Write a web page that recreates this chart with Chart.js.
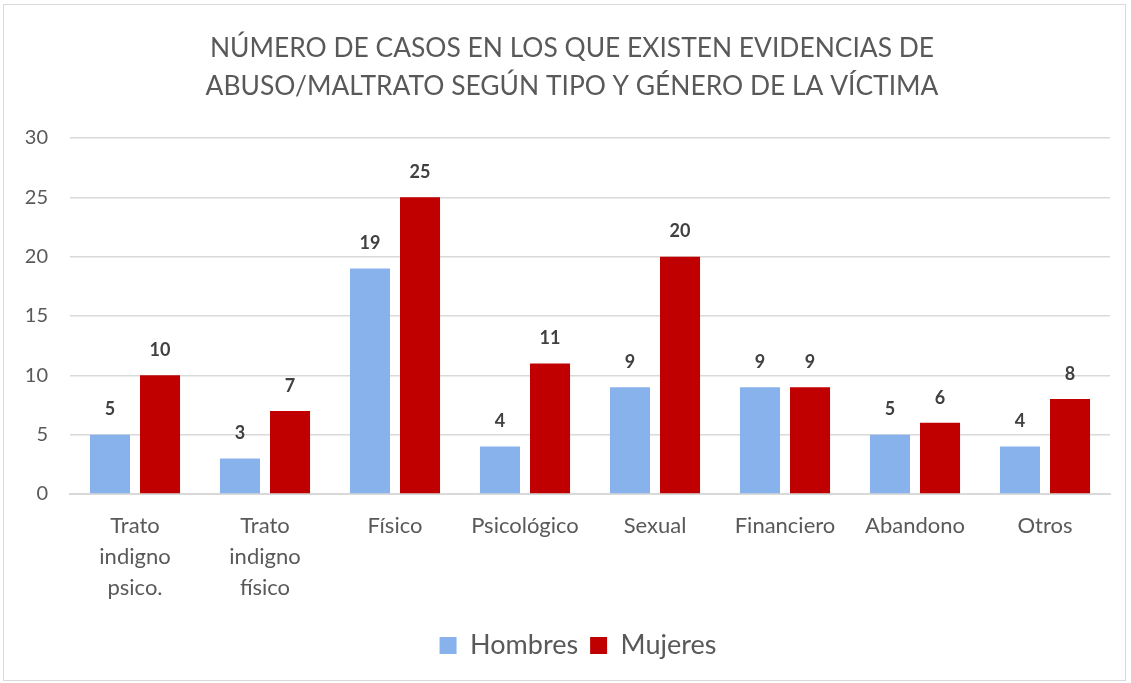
<!DOCTYPE html>
<html lang="es">
<head>
<meta charset="UTF-8">
<title>Casos de abuso/maltrato</title>
<script src="https://cdn.jsdelivr.net/npm/chart.js"></script>
<style>
  html, body { margin: 0; padding: 0; background: #fff; }
  #wrap { position: relative; width: 1131px; height: 683px; }
  #frame { position: absolute; left: 3px; top: 4px; right: 5px; bottom: 2px; border: 1px solid #d9d9d9; pointer-events: none; }
</style>
</head>
<body>
<div id="wrap">
  <canvas id="myChart" width="1131" height="683"></canvas>
  <div id="frame"></div>
</div>
<script>
// datos
const categorias = [
  ["Trato", "indigno", "psico."],
  ["Trato", "indigno", "físico"],
  "Físico", "Psicológico", "Sexual", "Financiero", "Abandono", "Otros"
];
const hombres = [5, 3, 19, 4, 9, 9, 5, 4];
const mujeres = [10, 7, 25, 11, 20, 9, 6, 8];
const yTicks = [0, 5, 10, 15, 20, 25, 30];

const FUENTE = "Lato, 'Open Sans', sans-serif";
const GRIS = "#595959";

// etiquetas encima de las barras
const etiquetas = {
  id: 'etiquetas',
  afterDatasetsDraw(chart) {
    const ctx = chart.ctx;
    ctx.save();
    ctx.font = "bold 18px " + FUENTE;
    ctx.fillStyle = "#404040";
    ctx.textAlign = "center";
    ctx.textBaseline = "middle";
    chart.data.datasets.forEach((ds, i) => {
      chart.getDatasetMeta(i).data.forEach((bar, j) => {
        ctx.fillText(ds.data[j], bar.x, bar.y - 25);
      });
    });
    ctx.restore();
  }
};

// titulo y leyenda centrados en toda la imagen, no en el area con padding
const centrar = {
  id: 'centrar',
  beforeDraw(chart) {
    chart.titleBlock.left += 12;
    chart.titleBlock.right += 12;
    chart.legend.left += 18;
    chart.legend.right += 18;
  }
};

const ctx = document.getElementById('myChart').getContext('2d');
const myChart = new Chart(ctx, {
  type: 'bar',
  data: {
    labels: categorias,
    datasets: [
      { label: 'Hombres', data: hombres, backgroundColor: '#88b2eb' },
      { label: 'Mujeres', data: mujeres, backgroundColor: '#c00000' }
    ]
  },
  options: {
    responsive: false,
    animation: false,
    categoryPercentage: 0.77,
    barPercentage: 0.8,
    layout: { padding: { left: 10, right: 21, top: 20, bottom: 14 } },
    plugins: {
      title: {
        display: true,
        text: ["NÚMERO DE CASOS EN LOS QUE EXISTEN EVIDENCIAS DE",
               "ABUSO/MALTRATO SEGÚN TIPO Y GÉNERO DE LA VÍCTIMA"],
        color: GRIS,
        font: { family: FUENTE, size: 26.4, weight: 'normal', lineHeight: 1.42 },
        padding: { top: 10, bottom: 33 }
      },
      legend: {
        position: 'bottom',
        labels: {
          color: GRIS,
          font: { family: FUENTE, size: 27 },
          boxWidth: 17,
          boxHeight: 17,
          padding: 12
        }
      },
      tooltip: { enabled: false }
    },
    scales: {
      x: {
        grid: { display: false },
        border: { color: '#d9d9d9', width: 2 },
        ticks: {
          color: GRIS,
          font: { family: FUENTE, size: 22, lineHeight: 1.42 },
          maxRotation: 0,
          autoSkip: false,
          padding: 8
        },
        afterFit(scale) { scale.height = 126; }
      },
      y: {
        min: 0,
        max: 30,
        afterBuildTicks(scale) { scale.ticks = yTicks.map(v => ({ value: v })); },
        grid: { color: '#d9d9d9', lineWidth: 1.5, drawTicks: false },
        border: { display: false },
        ticks: {
          color: GRIS,
          font: { family: FUENTE, size: 20 },
          padding: 22
        },
        afterFit(scale) { scale.width = 60; }
      }
    }
  },
  plugins: [etiquetas, centrar]
});
</script>
</body>
</html>
